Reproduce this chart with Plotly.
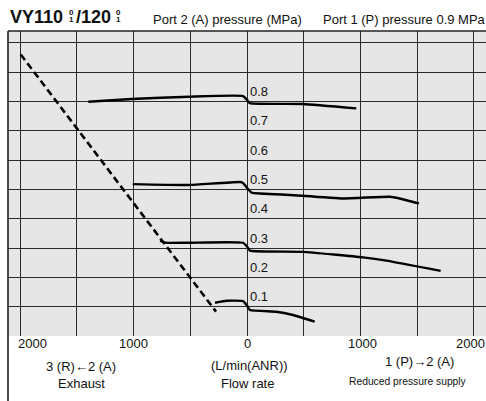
import plotly.graph_objects as go

# ---- data (flow in L/min(ANR); exhaust side stored as positive flow) ----
p08_exh_flow = [1400, 1017, 509, 35, 0]
p08_exh_p = [0.799, 0.808, 0.816, 0.818, 0.805]
p08_sup_flow = [26, 494, 964]
p08_sup_p = [0.794, 0.791, 0.776]

p05_exh_flow = [1008, 509, 62, 33, 0]
p05_exh_p = [0.518, 0.515, 0.525, 0.521, 0.505]
p05_sup_flow = [41, 379, 847, 1259, 1347, 1517]
p05_sup_p = [0.489, 0.481, 0.469, 0.475, 0.469, 0.452]

p03_exh_flow = [767, 723, 509, 35, 0]
p03_exh_p = [0.325, 0.318, 0.318, 0.318, 0.305]
p03_sup_flow = [26, 494, 1023, 1229, 1708]
p03_sup_p = [0.291, 0.287, 0.268, 0.257, 0.222]

p01_exh_flow = [282, 179, 35, 0]
p01_exh_p = [0.1135, 0.120, 0.119, 0.104]
p01_sup_flow = [26, 258, 406, 597]
p01_sup_p = [0.0886, 0.0828, 0.0716, 0.0488]

limit_flow = [1996, 273]
limit_p = [0.960, 0.083]

curve_labels = ["0.8", "0.7", "0.6", "0.5", "0.4", "0.3", "0.2", "0.1"]
curve_label_p = [0.8, 0.7, 0.6, 0.5, 0.4, 0.3, 0.2, 0.1]

tick_vals = [-2000, -1000, 0, 1000, 2000]
tick_text = ["2000", "1000", "0", "1000", "2000"]

FONT = "Liberation Sans, Arial, sans-serif"
fig = go.Figure()

def add_curve(exh_f, exh_p, sup_f, sup_p):
    xs = [-f for f in exh_f] + list(sup_f)
    ys = list(exh_p) + list(sup_p)
    fig.add_trace(go.Scatter(x=xs, y=ys, mode="lines",
                             line=dict(color="black", width=2.4, shape="spline", smoothing=0.4),
                             showlegend=False, hoverinfo="skip"))

add_curve(p08_exh_flow, p08_exh_p, p08_sup_flow, p08_sup_p)
add_curve(p05_exh_flow, p05_exh_p, p05_sup_flow, p05_sup_p)
add_curve(p03_exh_flow, p03_exh_p, p03_sup_flow, p03_sup_p)
add_curve(p01_exh_flow, p01_exh_p, p01_sup_flow, p01_sup_p)

fig.add_trace(go.Scatter(x=[-f for f in limit_flow], y=limit_p, mode="lines",
                         line=dict(color="black", width=2.6, dash="7px,4px"),
                         showlegend=False, hoverinfo="skip"))

ann = []
for t, p in zip(curve_labels, curve_label_p):
    ann.append(dict(x=0, y=p, xref="x", yref="y", text=t, showarrow=False,
                    xanchor="left", yanchor="middle", xshift=1, yshift=10,
                    font=dict(family=FONT, size=13, color="#111")))

tick_shift = [-4, 0, 0, 2, -3]
tick_anchor = ["left", "center", "center", "center", "center"]
for v, t, xs, xa in zip(tick_vals, tick_text, tick_shift, tick_anchor):
    ann.append(dict(x=v, y=0, xref="x", yref="paper", text=t, showarrow=False,
                    xanchor=xa, yanchor="middle", xshift=xs, yshift=-7.5,
                    font=dict(family=FONT, size=13, color="#111")))

def px_text(text, xpx, ypx, size=13, anchor="center", bold=False, family=FONT):
    # xpx, ypx are positions in the page; plot area starts at page (8, 31)
    ann.append(dict(x=0, y=1, xref="paper", yref="paper", text=text, showarrow=False,
                    xanchor=anchor, yanchor="middle", xshift=xpx - 8, yshift=31 - ypx,
                    font=dict(family=family, size=size, color="#111",
                              weight="bold" if bold else "normal")))

px_text("3 (R)←2 (A)", 81, 366.5)
px_text("Exhaust", 81.5, 383)
px_text("(L/min(ANR))", 249, 365)
px_text("Flow rate", 247.5, 383)
px_text("1 (P)→2 (A)", 419, 361.5)
px_text("Reduced pressure supply", 408, 381.5, size=10.3)

px_text("VY110", 8, 16.5, size=18, anchor="left", bold=True)
px_text("0", 71.5, 12.5, size=8, bold=True)
px_text("1", 71.5, 19.5, size=8, bold=True)
px_text("/120", 74, 16.5, size=18, anchor="left", bold=True)
px_text("0", 118, 12.5, size=8, bold=True)
px_text("1", 118, 19.5, size=8, bold=True)
px_text("Port 2 (A) pressure (MPa)", 151, 19, size=13, anchor="left")
px_text("Port 1 (P) pressure 0.9 MPa", 321, 19, size=13, anchor="left")

shapes = [
    dict(type="line", xref="paper", yref="paper", x0=0, x1=0, y0=-0.3, y1=1,
         line=dict(color="#222", width=1.6)),
    dict(type="line", xref="paper", yref="paper", x0=0, x1=1, y0=1, y1=1,
         line=dict(color="#222", width=1.3)),
]

fig.update_layout(
    width=486, height=401,
    margin=dict(l=8, r=0, t=31, b=65),
    paper_bgcolor="white", plot_bgcolor="#e6e6e6",
    annotations=ann, shapes=shapes,
    xaxis=dict(range=[-2108, 2108], tick0=0, dtick=500, showgrid=True,
               gridcolor="#2a2a2a", gridwidth=1, zeroline=False, showticklabels=False,
               ticks="", showline=False, fixedrange=True),
    yaxis=dict(range=[0, 1.04], tick0=0, dtick=0.1, showgrid=True,
               gridcolor="#2a2a2a", gridwidth=1, zeroline=False, showticklabels=False,
               ticks="", showline=False, fixedrange=True),
)

fig.write_html("out.html", config={"displayModeBar": False},
               post_script="document.body.style.margin='0px';")
